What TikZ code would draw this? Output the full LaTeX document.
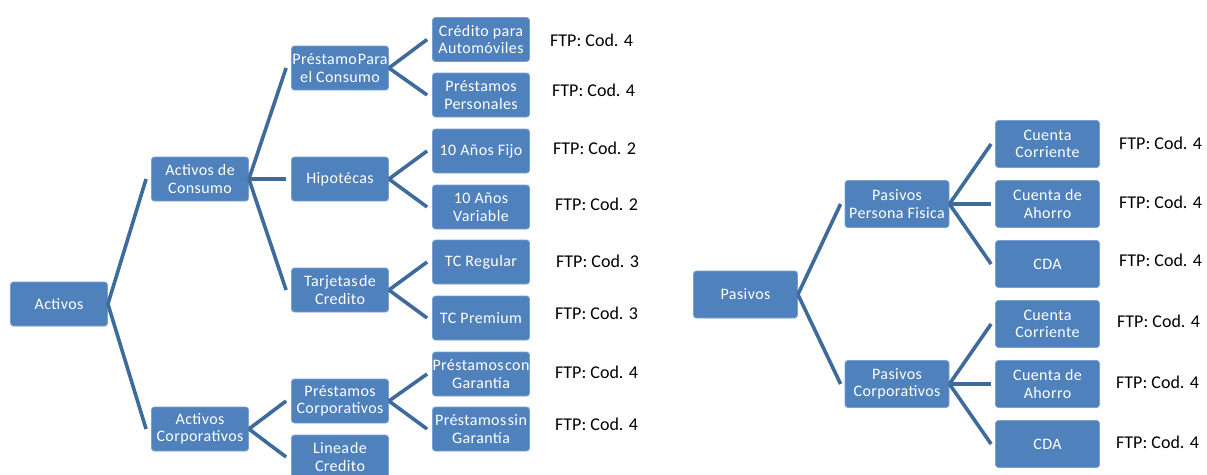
\documentclass[tikz,border=0pt]{standalone}
\usepackage{fontspec}
\setmainfont{Carlito}
\newfontfamily\boxfont[LetterSpace=2.5]{Carlito}
\definecolor{boxblue}{HTML}{4F81BD}
\definecolor{boxedge}{HTML}{7A9FD0}
\definecolor{linkblue}{HTML}{3E6A9C}
\tikzset{
  box/.style={rectangle, rounded corners=3pt, fill=boxblue, draw=boxedge, line width=0.8pt,
    text=white, align=center, font=\boxfont\fontsize{16}{17.5}\selectfont,
    minimum width=97pt, minimum height=44pt, inner sep=0pt},
  rbox/.style={box, minimum width=104pt, minimum height=47pt},
  link/.style={draw=linkblue, line width=3.6pt},
  ftp/.style={anchor=west, font=\fontsize{18}{20}\selectfont, text=black, inner sep=0pt},
}
\begin{document}
\begin{tikzpicture}[x=1pt,y=-1pt]
\useasboundingbox (0,0) rectangle (1207,474);
\clip (0,0) rectangle (1207,474);
% ---- Activos tree
\node[box] (act) at (59,304) {Activos};
\node[box] (acons) at (200,179) {Activos de\\Consumo};
\node[box] (acorp) at (200,429) {Activos\\Corporativos};
\node[box] (ppc) at (340,68) {Préstamo\hspace{1pt}Para\\el Consumo};
\node[box] (hip) at (340,179) {Hipotécas};
\node[box] (tar) at (340,290) {Tarjetas\hspace{1.5pt}de\\Credito};
\node[box] (pcorp) at (340,401) {Préstamos\\Corporativos};
\node[box] (lin) at (340,457) {Linea\hspace{1pt}de\\Credito};
\node[box] (auto) at (481,39.5) {Crédito para\\Automóviles};
\node[box] (pper) at (481,95) {Préstamos\\Personales};
\node[box] (fijo) at (481,151) {10 Años Fijo};
\node[box] (var) at (481,207) {10 Años\\Variable};
\node[box] (tcr) at (481,262) {TC Regular};
\node[box] (tcp) at (481,318) {TC Premium};
\node[box] (pcon) at (481,374) {Préstamos\hspace{1.5pt}con\\Garantía};
\node[box] (psin) at (481,429) {Préstamos\hspace{1.5pt}sin\\Garantía};
\draw[link] (act.east) -- ([xshift=-5pt]acons.west);
\draw[link] (act.east) -- ([xshift=-5pt]acorp.west);
\draw[link] (acons.east) -- ([xshift=-5pt]ppc.west);
\draw[link] (acons.east) -- ([xshift=-5pt]hip.west);
\draw[link] (acons.east) -- ([xshift=-5pt]tar.west);
\draw[link] (acorp.east) -- ([xshift=-5pt]pcorp.west);
\draw[link] (acorp.east) -- ([xshift=-5pt]lin.west);
\draw[link] (ppc.east) -- ([xshift=-5pt]auto.west);
\draw[link] (ppc.east) -- ([xshift=-5pt]pper.west);
\draw[link] (hip.east) -- ([xshift=-5pt]fijo.west);
\draw[link] (hip.east) -- ([xshift=-5pt]var.west);
\draw[link] (tar.east) -- ([xshift=-5pt]tcr.west);
\draw[link] (tar.east) -- ([xshift=-5pt]tcp.west);
\draw[link] (pcorp.east) -- ([xshift=-5pt]pcon.west);
\draw[link] (pcorp.east) -- ([xshift=-5pt]psin.west);
\node[ftp] (f1) at (550,40) {FTP: Cod. 4};
\node[ftp] (f2) at (552,90) {FTP: Cod. 4};
\node[ftp] (f3) at (553,148) {FTP: Cod. 2};
\node[ftp] (f4) at (555,204) {FTP: Cod. 2};
\node[ftp] (f5) at (556,261) {FTP: Cod. 3};
\node[ftp] (f6) at (555,313) {FTP: Cod. 3};
\node[ftp] (f7) at (555,372) {FTP: Cod. 4};
\node[ftp] (f8) at (555,424) {FTP: Cod. 4};
% ---- Pasivos tree
\node[rbox] (pas) at (745.5,294.5) {Pasivos};
\node[rbox] (ppf) at (897,204) {Pasivos\\Persona Fisica};
\node[rbox] (pco) at (897,384) {Pasivos\\Corporativos};
\node[rbox] (cc1) at (1047.5,144) {Cuenta\\Corriente};
\node[rbox] (ca1) at (1047.5,204) {Cuenta de\\Ahorro};
\node[rbox] (cda1) at (1047.5,264) {CDA};
\node[rbox] (cc2) at (1047.5,324) {Cuenta\\Corriente};
\node[rbox] (ca2) at (1047.5,384) {Cuenta de\\Ahorro};
\node[rbox] (cda2) at (1047.5,444) {CDA};
\draw[link] (pas.east) -- ([xshift=-4pt]ppf.west);
\draw[link] (pas.east) -- ([xshift=-4pt]pco.west);
\draw[link] (ppf.east) -- ([xshift=-4pt]cc1.west);
\draw[link] (ppf.east) -- ([xshift=-4pt]ca1.west);
\draw[link] (ppf.east) -- ([xshift=-4pt]cda1.west);
\draw[link] (pco.east) -- ([xshift=-4pt]cc2.west);
\draw[link] (pco.east) -- ([xshift=-4pt]ca2.west);
\draw[link] (pco.east) -- ([xshift=-4pt]cda2.west);
\node[ftp] (g1) at (1119,143) {FTP: Cod. 4};
\node[ftp] (g2) at (1119,202) {FTP: Cod. 4};
\node[ftp] (g3) at (1119,260) {FTP: Cod. 4};
\node[ftp] (g4) at (1117,321) {FTP: Cod. 4};
\node[ftp] (g5) at (1116,382) {FTP: Cod. 4};
\node[ftp] (g6) at (1116,442) {FTP: Cod. 4};
\end{tikzpicture}
\end{document}
